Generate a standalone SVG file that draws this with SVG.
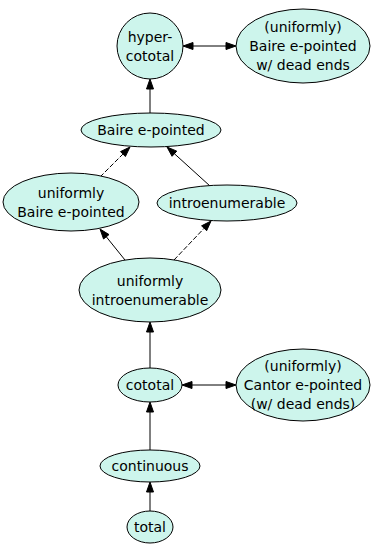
<svg xmlns="http://www.w3.org/2000/svg" width="376" height="544" viewBox="0 0 376 544">
<style>
.n{fill:#cdf5ec;stroke:#000;stroke-width:1}
.t{font-family:"DejaVu Sans","Verdana",sans-serif;font-size:14px;fill:#000;text-anchor:middle}
.e{stroke:#000;stroke-width:1;fill:none}
.d{stroke-dasharray:5,2}
.h{fill:#000;stroke:#000;stroke-width:1}
</style>
<rect width="376" height="544" fill="#fff"/>
<g id="edges">
<line class="e" x1="150" y1="113" x2="150" y2="89"/>
<polygon class="h" points="150,79 146.5,89 153.5,89"/>
<line class="e" x1="193" y1="46" x2="226" y2="46"/>
<polygon class="h" points="183,46 193,42.5 193,49.5"/>
<polygon class="h" points="236,46 226,42.5 226,49.5"/>
<line class="e d" x1="100" y1="177" x2="122.9" y2="154.1"/>
<polygon class="h" points="130,147 125.4,156.5 120.5,151.6"/>
<line class="e" x1="210" y1="186" x2="174.4" y2="153.7"/>
<polygon class="h" points="167,147 176.76,151.13 172.06,156.31"/>
<line class="e" x1="125" y1="260" x2="106.3" y2="236.8"/>
<polygon class="h" points="100,229 109.01,234.59 103.55,238.99"/>
<line class="e d" x1="174" y1="260" x2="204.1" y2="228.3"/>
<polygon class="h" points="211,221 206.66,230.66 201.58,225.84"/>
<line class="e" x1="150" y1="368" x2="150" y2="332"/>
<polygon class="h" points="150,322 146.5,332 153.5,332"/>
<line class="e" x1="192" y1="385" x2="226" y2="385"/>
<polygon class="h" points="182,385 192,381.5 192,388.5"/>
<polygon class="h" points="236,385 226,381.5 226,388.5"/>
<line class="e" x1="150" y1="450" x2="150" y2="412"/>
<polygon class="h" points="150,402 146.5,412 153.5,412"/>
<line class="e" x1="150" y1="512" x2="150" y2="492"/>
<polygon class="h" points="150,482 146.5,492 153.5,492"/>
</g>
<g id="hypercototal">
<circle class="n" cx="150" cy="46" r="33"/>
<text class="t" x="150" y="41.5">hyper-</text>
<text class="t" x="150" y="60.5">cototal</text>
</g>
<g id="bairedeadends">
<ellipse class="n" cx="303" cy="46" rx="67" ry="37"/>
<text class="t" x="303" y="32">(uniformly)</text>
<text class="t" x="303" y="51">Baire e-pointed</text>
<text class="t" x="303" y="70">w/ dead ends</text>
</g>
<g id="baire">
<ellipse class="n" cx="151" cy="130" rx="70" ry="17"/>
<text class="t" x="151" y="135">Baire e-pointed</text>
</g>
<g id="unifbaire">
<ellipse class="n" cx="71" cy="202" rx="68" ry="29"/>
<text class="t" x="71" y="197.5">uniformly</text>
<text class="t" x="71" y="216.5">Baire e-pointed</text>
</g>
<g id="introenum">
<ellipse class="n" cx="227" cy="203" rx="70" ry="18"/>
<text class="t" x="227" y="208">introenumerable</text>
</g>
<g id="unifintro">
<ellipse class="n" cx="150" cy="290" rx="71" ry="32"/>
<text class="t" x="150" y="285.5">uniformly</text>
<text class="t" x="150" y="304.5">introenumerable</text>
</g>
<g id="cototal">
<ellipse class="n" cx="150" cy="385" rx="32" ry="17"/>
<text class="t" x="150" y="390">cototal</text>
</g>
<g id="cantor">
<ellipse class="n" cx="303" cy="385" rx="67" ry="36"/>
<text class="t" x="303" y="371">(uniformly)</text>
<text class="t" x="303" y="390">Cantor e-pointed</text>
<text class="t" x="303" y="409">(w/ dead ends)</text>
</g>
<g id="continuous">
<ellipse class="n" cx="150" cy="466" rx="50" ry="16"/>
<text class="t" x="150" y="471">continuous</text>
</g>
<g id="total">
<ellipse class="n" cx="150" cy="527" rx="23" ry="16"/>
<text class="t" x="150" y="532">total</text>
</g>
</svg>
